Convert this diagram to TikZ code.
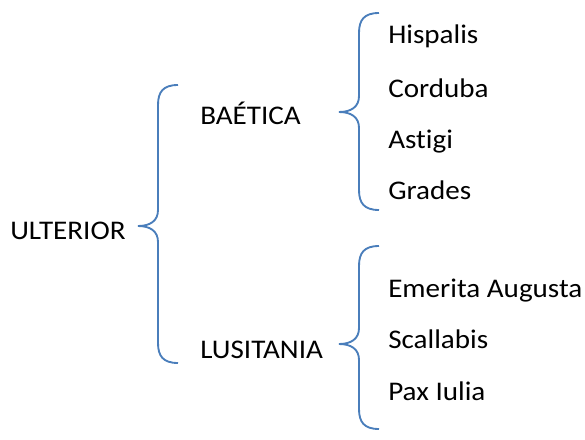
\documentclass[tikz,border=0pt]{standalone}
\usepackage{fontspec}
\setmainfont{Carlito}[Ligatures=CommonOff]
\usetikzlibrary{positioning}
\definecolor{bracecol}{HTML}{4A7EBB}

% left curly brace: tip x, tip y, top y, bottom y
\newcommand{\curlybrace}[4]{%
  \draw[brace] (#1+40,#3) .. controls (#1+25,#3) and (#1+20,#3+7) .. (#1+20,#3+20)
    -- (#1+20,#2-16) .. controls (#1+20,#2-5) and (#1+12,#2) .. (#1,#2)
    .. controls (#1+12,#2) and (#1+20,#2+5) .. (#1+20,#2+16)
    -- (#1+20,#4-20) .. controls (#1+20,#4-7) and (#1+25,#4) .. (#1+40,#4);}

\begin{document}
\begin{tikzpicture}[x=0.75pt, y=-0.75pt,
  word/.style={anchor=base west, inner sep=0pt, transform shape, xscale=1.08,
    font=\fontsize{20.2}{24}\selectfont},
  brace/.style={draw=bracecol, line width=1.4pt}]
  \useasboundingbox (0,0) rectangle (585,439);

  \node[word] (ult) at (10,239) {ULTERIOR};

  \node[word] (bae) at (200,124) {BAÉTICA};
  \node[word] (lus) at (200,358) {LUSITANIA};

  \node[word] (his) at (388,43) {Hispalis};
  \node[word] (cor) at (388,97) {Corduba};
  \node[word] (ast) at (388,148) {Astigi};
  \node[word] (gra) at (388,199) {Grades};

  \node[word] (eme) at (388,297) {Emerita Augusta};
  \node[word] (sca) at (388,348) {Scallabis};
  \node[word] (pax) at (388,400) {Pax Iulia};

  \curlybrace{138}{226}{85}{363}
  \curlybrace{339}{112}{13}{210}
  \curlybrace{339}{344}{246}{429}
\end{tikzpicture}
\end{document}
